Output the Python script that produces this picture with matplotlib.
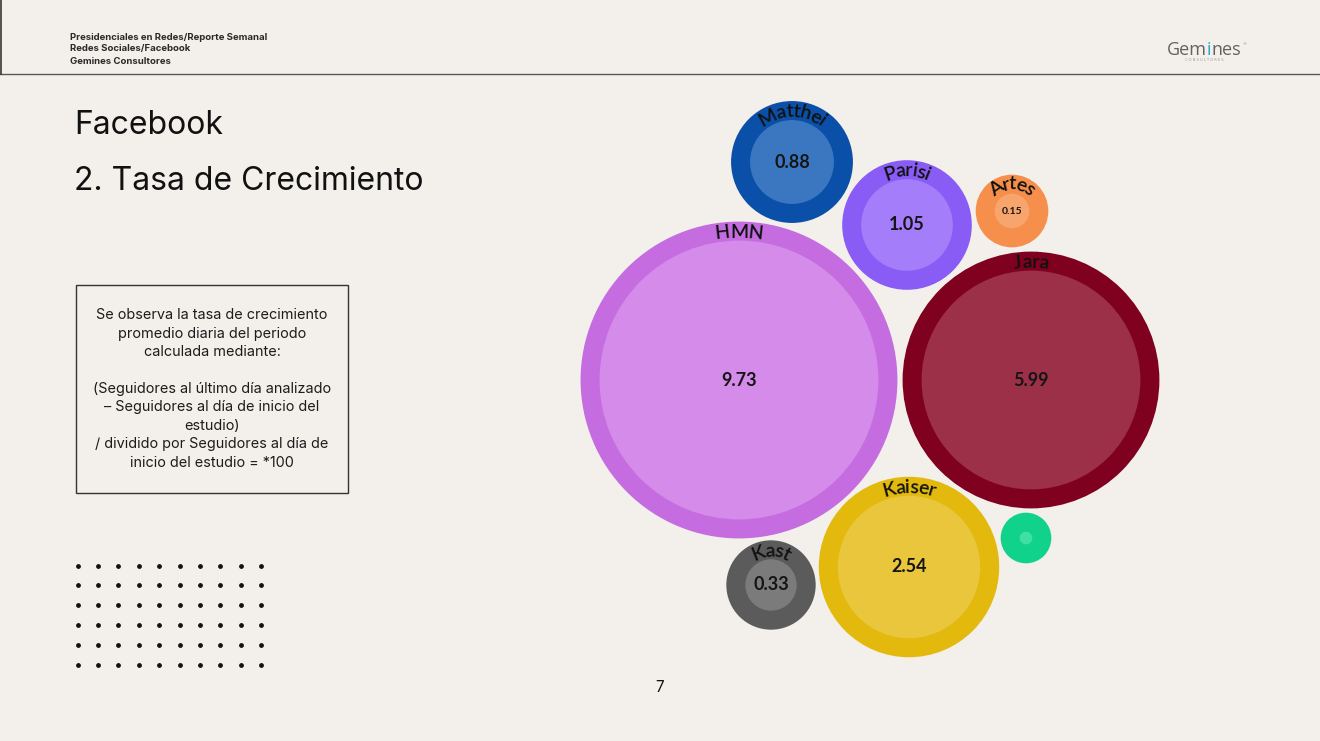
import numpy as np
import matplotlib
matplotlib.use("Agg")
import matplotlib.pyplot as plt
from matplotlib.patches import Circle, Rectangle
from matplotlib.font_manager import FontProperties
from matplotlib.textpath import text_to_path

# datos: tasa de crecimiento promedio diaria (%)
candidatos = ["HMN", "Jara", "Kaiser", "Parisi", "Matthei", "Kast", "Artes", ""]
tasas = [9.73, 5.99, 2.54, 1.05, 0.88, 0.33, 0.15, 0.02]
etiquetas = ["9.73", "5.99", "2.54", "1.05", "0.88", "0.33", "0.15", ""]

# estilo / layout (px)
col_ext = ["#c46ce0", "#80001f", "#e2b90c", "#8a5cf6", "#0a4fa8", "#5b5b5b", "#f68f4c", "#10d28a"]
col_int = ["#d58be9", "#9c3049", "#e9c63c", "#a37dfa", "#3a77c0", "#7b7b7b", "#f8a46d", "#3fdfa5"]
centros = [(739, 380), (1031, 380), (909, 567), (907, 225), (792, 162),
           (771, 585), (1012, 211), (1026, 538)]
ESCALA = 44.7   # radio interior = ESCALA * sqrt(tasa)
ANILLO = 19.0   # ancho del anillo exterior

BG = "#f3f0eb"
W, H = 1320, 741

fig = plt.figure(figsize=(W / 100, H / 100), dpi=100, facecolor=BG)
ax = fig.add_axes([0, 0, 1, 1])
ax.set_xlim(0, W)
ax.set_ylim(H, 0)
ax.set_aspect("equal")
ax.axis("off")
ax.set_facecolor(BG)

# cabecera
ax.plot([0, W], [74, 74], color="#5a5753", lw=1.0)
ax.plot([0.6, 0.6], [0, 74], color="#3a3733", lw=1.2)
for i, t in enumerate(["Presidenciales en Redes/Reporte Semanal",
                       "Redes Sociales/Facebook", "Gemines Consultores"]):
    ax.text(70, 37 + 12 * i, t, fontsize=6.9, fontweight="bold", family="Inter",
            color="#2a2a2a", va="center", ha="left")

# logo
logo_fp = FontProperties(family="Open Sans", size=13)
x = 1167
for parte, c in [("Gem", "#626262"), ("i", "#2ba6d6"), ("nes", "#626262")]:
    ax.text(x, 55, parte, fontproperties=logo_fp, color=c, va="baseline", ha="left")
    w, _, _ = text_to_path.get_text_width_height_descent(parte, logo_fp, ismath=False)
    x += w * 100 / 72
ax.text(x + 1, 44, "®", fontsize=3, color="#888888", va="center")
ax.text(1204, 60, "C O N S U L T O R E S", fontsize=2.6, color="#9a9a9a",
        ha="center", va="center")

# titulo
ax.text(74, 126, "Facebook", fontsize=23, family="Inter", color="#111111",
        va="center", ha="left")
ax.text(74, 181, "2. Tasa de Crecimiento", fontsize=23, family="Inter", color="#111111",
        va="center", ha="left")

# recuadro explicativo
ax.add_patch(Rectangle((76, 285), 272, 208, fill=False, ec="#333333", lw=1.0))
texto = ("Se observa la tasa de crecimiento\npromedio diaria del periodo\n"
         "calculada mediante:\n\n(Seguidores al último día analizado\n"
         "– Seguidores al día de inicio del\nestudio)\n"
         "/ dividido por Seguidores al día de\ninicio del estudio = *100")
ax.text(212, 389, texto, fontsize=10.4, family="Inter", color="#1c1c1c",
        ha="center", va="center", linespacing=1.4)

# puntos decorativos
gx, gy = np.meshgrid(77.5 + 20.4 * np.arange(10), 565.5 + 19.9 * np.arange(6))
ax.scatter(gx.ravel(), gy.ravel(), s=6, color="#111111", zorder=3)

# numero de pagina
ax.text(660, 688, "7", fontsize=11, family="Inter", color="#111111", ha="center", va="center")


def texto_en_arco(nombre, cx, cy, R, fp):
    anchos = [text_to_path.get_text_width_height_descent(ch, fp, ismath=False)[0] * 100 / 72
              for ch in nombre]
    total = sum(anchos)
    acum = -total / 2
    for ch, w in zip(nombre, anchos):
        th = (acum + w / 2) / R
        acum += w
        px = cx + R * np.sin(th)
        py = cy - R * np.cos(th)
        ax.text(px, py, ch, fontproperties=fp, color="#111111", rotation=-np.degrees(th),
                rotation_mode="anchor", ha="center", va="center", zorder=6)


# burbujas
for nom, val, lab, ce, ci, (cx, cy) in zip(candidatos, tasas, etiquetas, col_ext, col_int, centros):
    r_in = ESCALA * np.sqrt(val)
    r_out = r_in + ANILLO
    ax.add_patch(Circle((cx, cy), r_out, color=ce, lw=0, zorder=4))
    ax.add_patch(Circle((cx, cy), r_in, color=ci, lw=0, zorder=5))
    if lab:
        fs = 13 if val > 0.2 else 7.5
        ax.text(cx, cy, lab, fontsize=fs, fontweight="bold", family="Lato",
                color="#151515", ha="center", va="center", zorder=6)
    if nom:
        fp = FontProperties(family="Lato", size=14, weight="semibold")
        texto_en_arco(nom, cx, cy, r_in + ANILLO / 2 - 1 + (1.5 if val < 0.2 else 0), fp)

fig.savefig("out.png", dpi=100, facecolor=BG)
